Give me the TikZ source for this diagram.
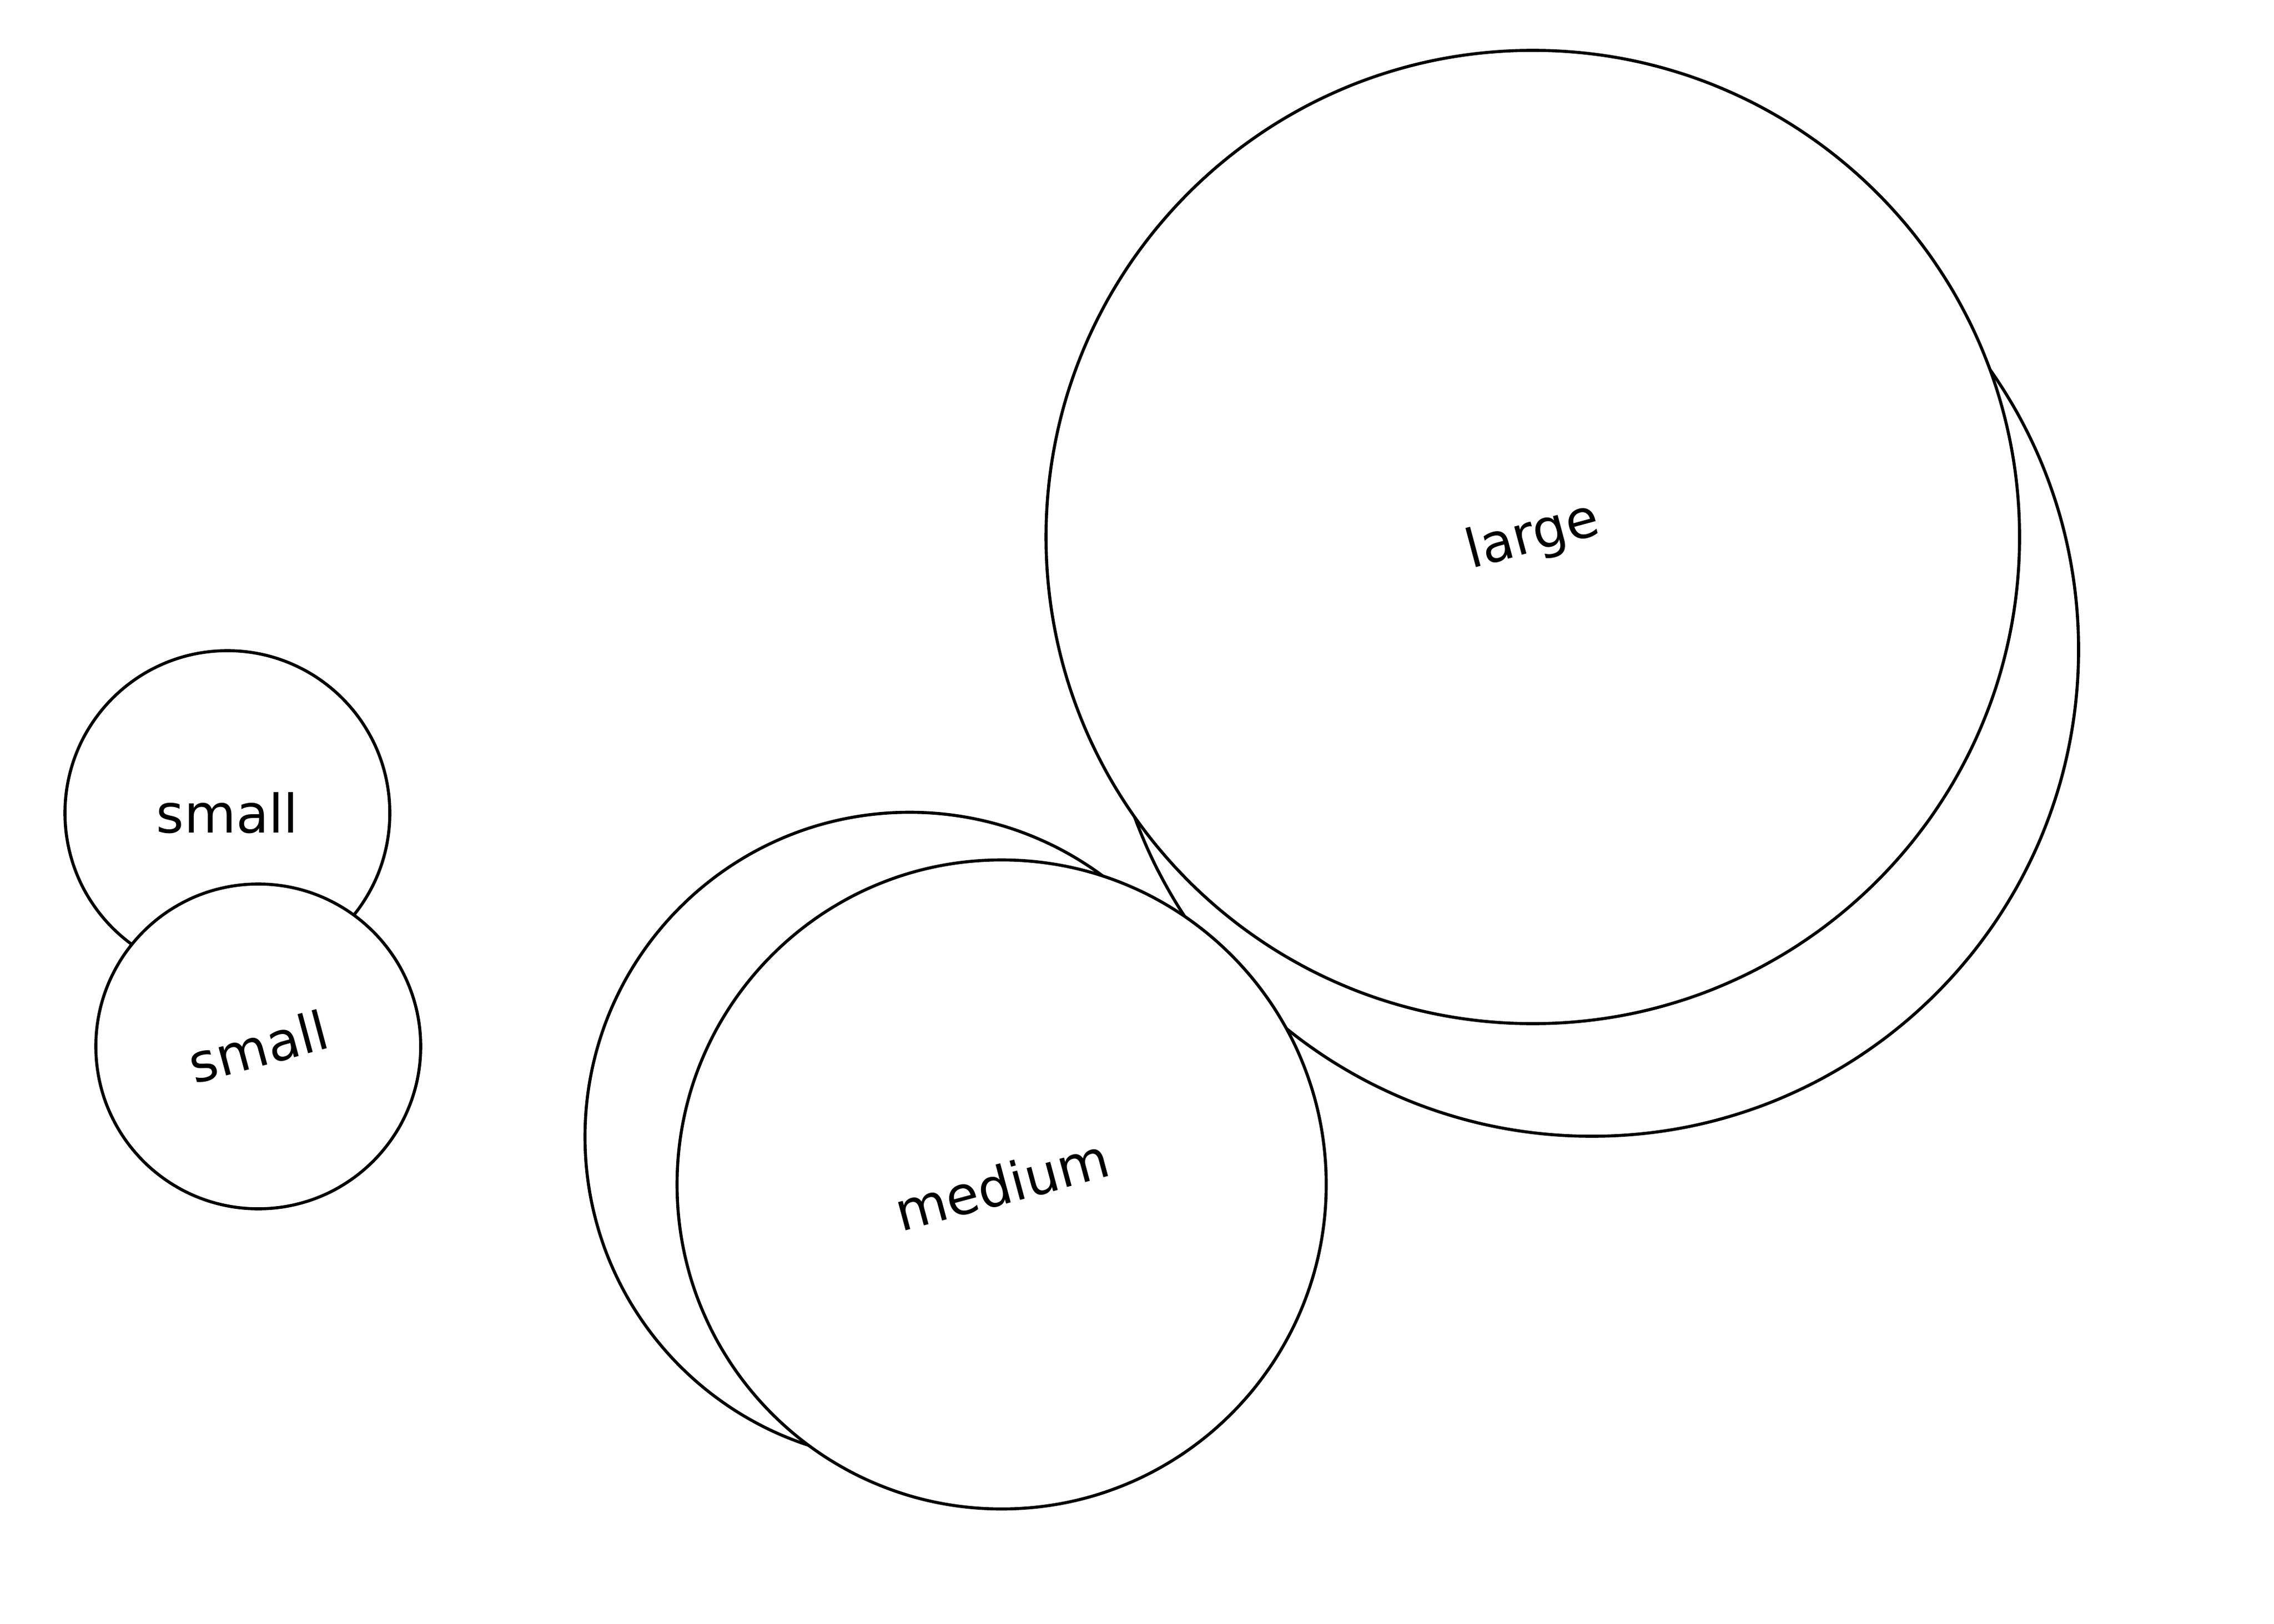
\documentclass[tikz,border=0pt]{standalone}
\usepackage{fontspec}
\setmainfont{DejaVu Sans}
\tikzset{
  disc/.style={circle, draw=black, fill=white, line width=1.6pt, inner sep=0pt,
    font=\fontsize{28}{34}\selectfont},
  smalldisc/.style={disc, minimum size=6.0cm},
  mediumdisc/.style={disc, minimum size=11.99cm},
  largedisc/.style={disc, minimum size=17.98cm},
}
\begin{document}
\begin{tikzpicture}
\useasboundingbox (0,0) rectangle (42,-30);
% back circles
\node[smalldisc] (s1) at (4.20,-15.02) {small};
\node[mediumdisc] (m1) at (16.80,-21.00) {};
\node[largedisc] (l1) at (29.40,-12.00) {};
% front circles
\node[smalldisc] (s2) at (4.77,-19.33) {\rotatebox{15}{small}};
\node[mediumdisc] (m2) at (18.50,-21.88) {\rotatebox{15}{medium}};
\node[largedisc] (l2) at (28.31,-9.92) {\rotatebox{15}{large}};
\end{tikzpicture}
\end{document}
